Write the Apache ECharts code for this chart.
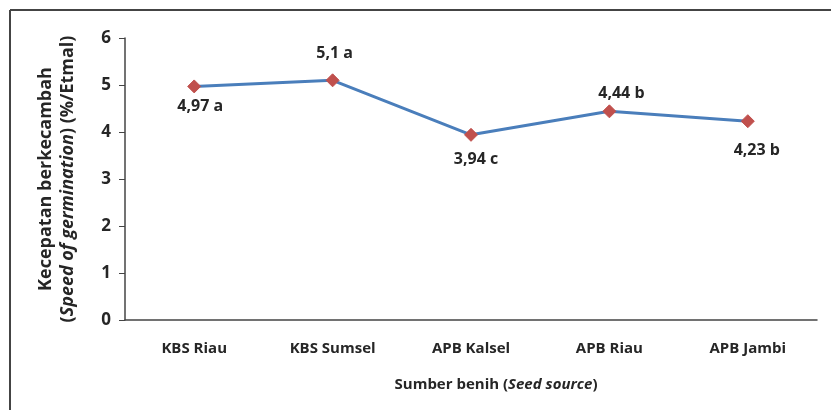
<!DOCTYPE html>
<html>
<head>
<meta charset="utf-8">
<script src="https://cdn.jsdelivr.net/npm/echarts@6/dist/echarts.min.js"></script>
<style>
  html, body { margin: 0; padding: 0; background: #fff; }
  #chart { width: 831px; height: 410px; }
</style>
</head>
<body>
<div id="chart"></div>
<script>
// data
const categories = ['KBS Riau', 'KBS Sumsel', 'APB Kalsel', 'APB Riau', 'APB Jambi']
const speedValues = [4.97, 5.1, 3.94, 4.44, 4.23]
const letters = ['a', 'a', 'c', 'b', 'b']
const yTicks = [0, 1, 2, 3, 4, 5, 6]

// label placement per point (style only)
const labelSides = ['bottom', 'top', 'bottom', 'top', 'bottom']
const labelDist = [5, 12, 10, 3, 14]
const labelShift = [6, 2, 5, 12, 9]

const font = '"Open Sans", "Liberation Sans", sans-serif'
const ink = '#262626'

const chart = echarts.init(document.getElementById('chart'))

const option = {
  animation: false,
  textStyle: { fontFamily: font },
  grid: { left: 125, right: 14, top: 38, bottom: 90 },
  graphic: [
    // frame: top and left edges only, the rest is cut off
    { type: 'line', shape: { x1: 10, y1: 10, x2: 831, y2: 10 }, style: { stroke: '#444', lineWidth: 2 } },
    { type: 'line', shape: { x1: 10, y1: 10, x2: 10, y2: 410 }, style: { stroke: '#444', lineWidth: 2 } }
  ],
  xAxis: {
    type: 'category',
    data: categories,
    axisLine: { lineStyle: { color: '#444', width: 1.5 } },
    axisTick: { show: false },
    axisLabel: { color: ink, fontWeight: 'bold', fontSize: 15, margin: 21, fontFamily: font },
    name: '{n|Sumber benih (}{i|Seed source}{n|)}',
    nameLocation: 'middle',
    nameGap: 57,
    nameTextStyle: {
      padding: [0, 0, 0, 50],
      rich: {
        n: { fontSize: 15, fontWeight: 'bold', color: ink, fontFamily: font },
        i: { fontSize: 15, fontWeight: 'bold', fontStyle: 'italic', color: ink, fontFamily: font }
      }
    }
  },
  yAxis: {
    type: 'value',
    min: yTicks[0],
    max: yTicks[yTicks.length - 1],
    interval: 1,
    splitLine: { show: false },
    axisLine: { show: true, lineStyle: { color: '#444', width: 1.5 } },
    axisTick: { show: true, length: 6, lineStyle: { color: '#444' } },
    axisLabel: { color: ink, fontWeight: 'bold', fontSize: 17, margin: 14, fontFamily: font },
    name: '{n|Kecepatan berkecambah}\n{n|(}{i|Speed of germination}{n|) (%/Etmal)}',
    nameLocation: 'middle',
    nameRotate: 90,
    nameGap: 46,
    nameTextStyle: {
      lineHeight: 22,
      rich: {
        n: { fontSize: 18, fontWeight: 'bold', color: ink, fontFamily: font, lineHeight: 22 },
        i: { fontSize: 18, fontWeight: 'bold', fontStyle: 'italic', color: ink, fontFamily: font, lineHeight: 22 }
      }
    }
  },
  series: [{
    type: 'line',
    data: speedValues.map((v, i) => ({
      value: v,
      label: { position: labelSides[i], distance: labelDist[i], offset: [labelShift[i], 0] }
    })),
    symbol: 'diamond',
    symbolSize: 13,
    itemStyle: { color: '#c0504d', borderColor: '#c0504d' },
    lineStyle: { color: '#4a7ebb', width: 3 },
    label: {
      show: true,
      color: ink,
      fontWeight: 'bold',
      fontSize: 16,
      fontFamily: font,
      formatter: p => String(p.value).replace('.', ',') + ' ' + letters[p.dataIndex]
    }
  }]
}

chart.setOption(option)
</script>
</body>
</html>
